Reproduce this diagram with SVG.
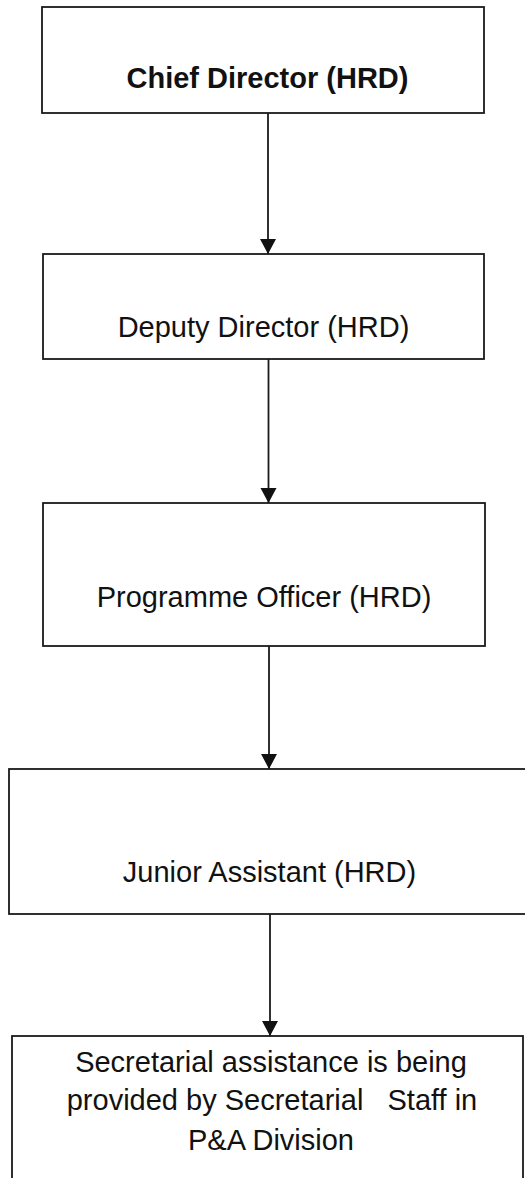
<svg xmlns="http://www.w3.org/2000/svg" width="525" height="1178" viewBox="0 0 525 1178">
<style>
.box{fill:#fff;stroke:#1a1a1a;stroke-width:1.8}
.t{font-family:"Liberation Sans",Arial,sans-serif;font-size:29px;fill:#111;text-anchor:middle}
.b{font-weight:bold}
.c{stroke:#1a1a1a;stroke-width:1.8;fill:none;marker-end:url(#ah)}
</style>
<defs>
<marker id="ah" markerUnits="userSpaceOnUse" markerWidth="16" markerHeight="17" refX="15" refY="8" orient="auto">
<path d="M0,0 L15,8 L0,16 Z" fill="#111"/>
</marker>
</defs>
<rect width="525" height="1178" fill="#fff"/>
<g id="connectors">
<line class="c" x1="268" y1="113" x2="268" y2="254"/>
<line class="c" x1="268.5" y1="359" x2="268.5" y2="503"/>
<line class="c" x1="269" y1="646" x2="269" y2="769"/>
<line class="c" x1="270" y1="914" x2="270" y2="1036"/>
</g>
<g id="chief-director">
<rect class="box" x="42" y="7" width="442" height="106"/>
<text class="t b" x="267.5" y="88">Chief Director (HRD)</text>
</g>
<g id="deputy-director">
<rect class="box" x="43" y="254" width="441" height="105"/>
<text class="t" x="263.5" y="337">Deputy Director (HRD)</text>
</g>
<g id="programme-officer">
<rect class="box" x="43" y="503" width="442" height="143"/>
<text class="t" x="264" y="607">Programme Officer (HRD)</text>
</g>
<g id="junior-assistant">
<rect class="box" x="9" y="769" width="530" height="145"/>
<text class="t" x="269.5" y="882">Junior Assistant (HRD)</text>
</g>
<g id="secretarial">
<rect class="box" x="12" y="1036" width="511" height="150"/>
<text class="t" x="271" y="1072">Secretarial assistance is being</text>
<text class="t" x="272" y="1110" xml:space="preserve" style="white-space:pre">provided by Secretarial   Staff in</text>
<text class="t" x="271" y="1150">P&amp;A Division</text>
</g>
</svg>
